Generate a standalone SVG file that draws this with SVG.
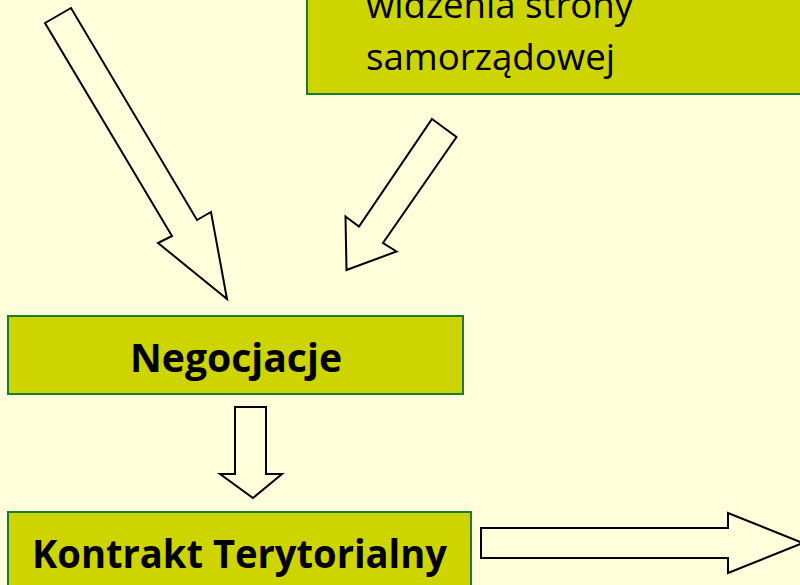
<svg xmlns="http://www.w3.org/2000/svg" width="800" height="585" viewBox="0 0 800 585">
  <style>
    .box { fill: #cdd400; stroke: #1b7d2c; stroke-width: 2; }
    .arrow { fill: #ffffdc; stroke: #000; stroke-width: 2; stroke-linejoin: miter; }
    .t { font-family: "Open Sans", "Noto Sans", "Liberation Sans", sans-serif; fill: #000; }
    .b { font-weight: bold; font-size: 39px; text-anchor: middle; }
    .n { font-size: 36px; }
  </style>
  <rect x="0" y="0" width="800" height="585" fill="#ffffdc"/>

  <g id="node-samorzad">
    <rect class="box" x="307" y="-10" width="503" height="104"/>
    <text class="t n" x="366" y="18" textLength="267" lengthAdjust="spacingAndGlyphs">widzenia strony</text>
    <text class="t n" x="366" y="70" textLength="249" lengthAdjust="spacingAndGlyphs">samorządowej</text>
  </g>

  <g id="node-negocjacje">
    <rect class="box" x="8" y="316" width="455" height="78"/>
    <text class="t b" x="236" y="372" textLength="212" lengthAdjust="spacingAndGlyphs">Negocjacje</text>
  </g>

  <g id="node-kontrakt">
    <rect class="box" x="8" y="512" width="463" height="85"/>
    <text class="t b" x="239.5" y="568" textLength="415" lengthAdjust="spacingAndGlyphs">Kontrakt Terytorialny</text>
  </g>

  <g id="connectors">
    <polygon class="arrow" points="45,23 71,8 197,220 211,212 227,299 158,243 172,236"/>
    <polygon class="arrow" points="432,119 456.5,137 383,243 396.5,251.5 346.5,270 345.5,216.5 359,226.5"/>
    <polygon class="arrow" points="235,407 266,407 266,474 282,474 253,498 220,474 235,474"/>
    <polygon class="arrow" points="481,528 728,528 728,513 803,543 728,573 728,558 481,558"/>
  </g>
</svg>
